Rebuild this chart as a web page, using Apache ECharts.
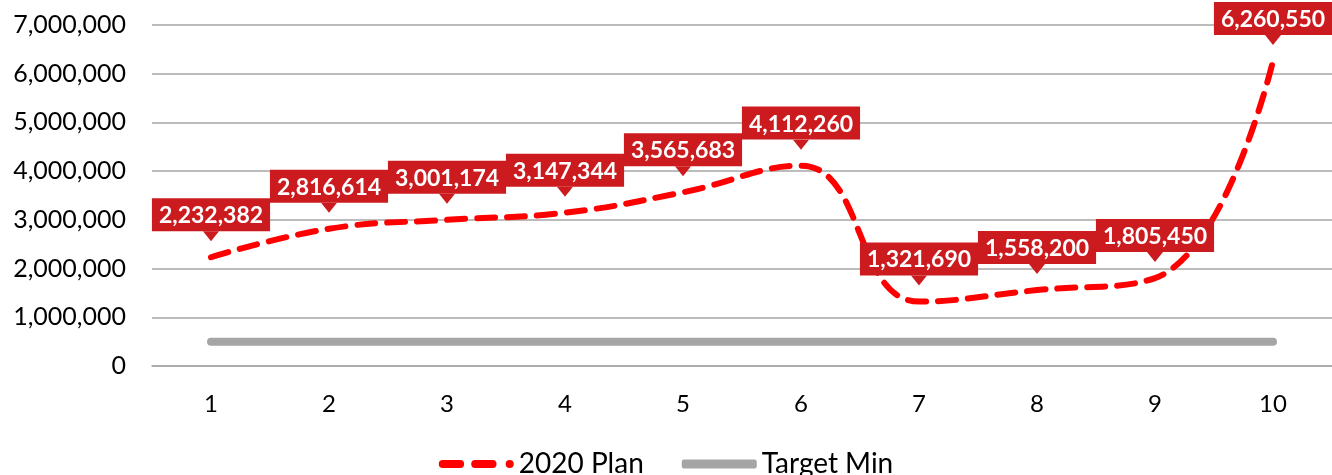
<!DOCTYPE html>
<html>
<head>
<meta charset="utf-8">
<script src="https://cdn.jsdelivr.net/npm/echarts@6/dist/echarts.min.js"></script>
<style>
html,body{margin:0;padding:0;background:#fff;}
#chart{width:1332px;height:475px;}
</style>
</head>
<body>
<div id="chart"></div>
<script>
var categories = ['1','2','3','4','5','6','7','8','9','10'];
var planValues = [2232382, 2816614, 3001174, 3147344, 3565683, 4112260, 1321690, 1558200, 1805450, 6260550];
var targetMin = [500000, 500000, 500000, 500000, 500000, 500000, 500000, 500000, 500000, 500000];
var yTicks = [0, 1000000, 2000000, 3000000, 4000000, 5000000, 6000000, 7000000];

var FONT = 'Lato, "Open Sans", sans-serif';
var RED = '#CC1B1F';
function fmt(v){ return Number(v).toLocaleString('en-US'); }

var dashIcon = 'path://M4,0h17a4,4 0 0 1 0,8h-17a4,4 0 0 1 0,-8z M36,0h17a4,4 0 0 1 0,8h-17a4,4 0 0 1 0,-8z M70,0a4,4 0 0 1 0,8a4,4 0 0 1 0,-8z';

var chart = echarts.init(document.getElementById('chart'));
chart.setOption({
  animation: false,
  grid: { left: 152, right: 0, top: 25, bottom: 109 },
  legend: {
    top: 445, left: 'center',
    itemWidth: 75, itemHeight: 9, itemGap: 38,
    textStyle: { fontFamily: FONT, fontSize: 28, color: '#000' },
    data: [
      { name: '2020 Plan', icon: dashIcon, itemStyle: { color: '#FF0000' } },
      { name: 'Target Min', icon: 'roundRect', itemStyle: { color: '#A5A5A5' } }
    ]
  },
  xAxis: {
    type: 'category', data: categories, boundaryGap: true,
    axisLine: { show: true, lineStyle: { color: '#A6A6A6', width: 1.5 } },
    axisTick: { show: false },
    axisLabel: { fontFamily: FONT, fontSize: 24, color: '#000', margin: 26 }
  },
  yAxis: {
    type: 'value', min: yTicks[0], max: yTicks[yTicks.length-1], interval: 1000000,
    axisLine: { show: false }, axisTick: { show: false },
    splitLine: { lineStyle: { color: '#A6A6A6', width: 1.5 } },
    axisLabel: { fontFamily: FONT, fontSize: 25, color: '#000', margin: 26, formatter: fmt }
  },
  series: [
    {
      name: 'Target Min', type: 'line', data: targetMin, showSymbol: false, symbol: 'none',
      lineStyle: { color: '#A5A5A5', width: 8, cap: 'round' },
      itemStyle: { color: '#A5A5A5' }, z: 2
    },
    {
      name: '2020 Plan', type: 'line', data: planValues, smooth: 0.45,
      showSymbol: true, symbol: 'circle', symbolSize: 0.1,
      lineStyle: { color: '#FF0000', width: 6, type: [18, 12], cap: 'round' },
      itemStyle: { color: '#FF0000' },
      label: {
        show: true, position: 'top', distance: 26,
        formatter: function(p){ return fmt(p.value); },
        fontFamily: FONT, fontSize: 23, fontWeight: 'bold', color: '#fff',
        backgroundColor: RED, padding: [6, 7, 4, 7]
      },
      labelLayout: { hideOverlap: false },
      z: 3
    },
    {
      name: 'pointer', type: 'scatter', data: planValues, symbol: 'triangle',
      symbolRotate: 180, symbolSize: [16, 10], symbolOffset: [0, -21],
      itemStyle: { color: RED, opacity: 1 }, silent: true, z: 4
    }
  ]
});
</script>
</body>
</html>
